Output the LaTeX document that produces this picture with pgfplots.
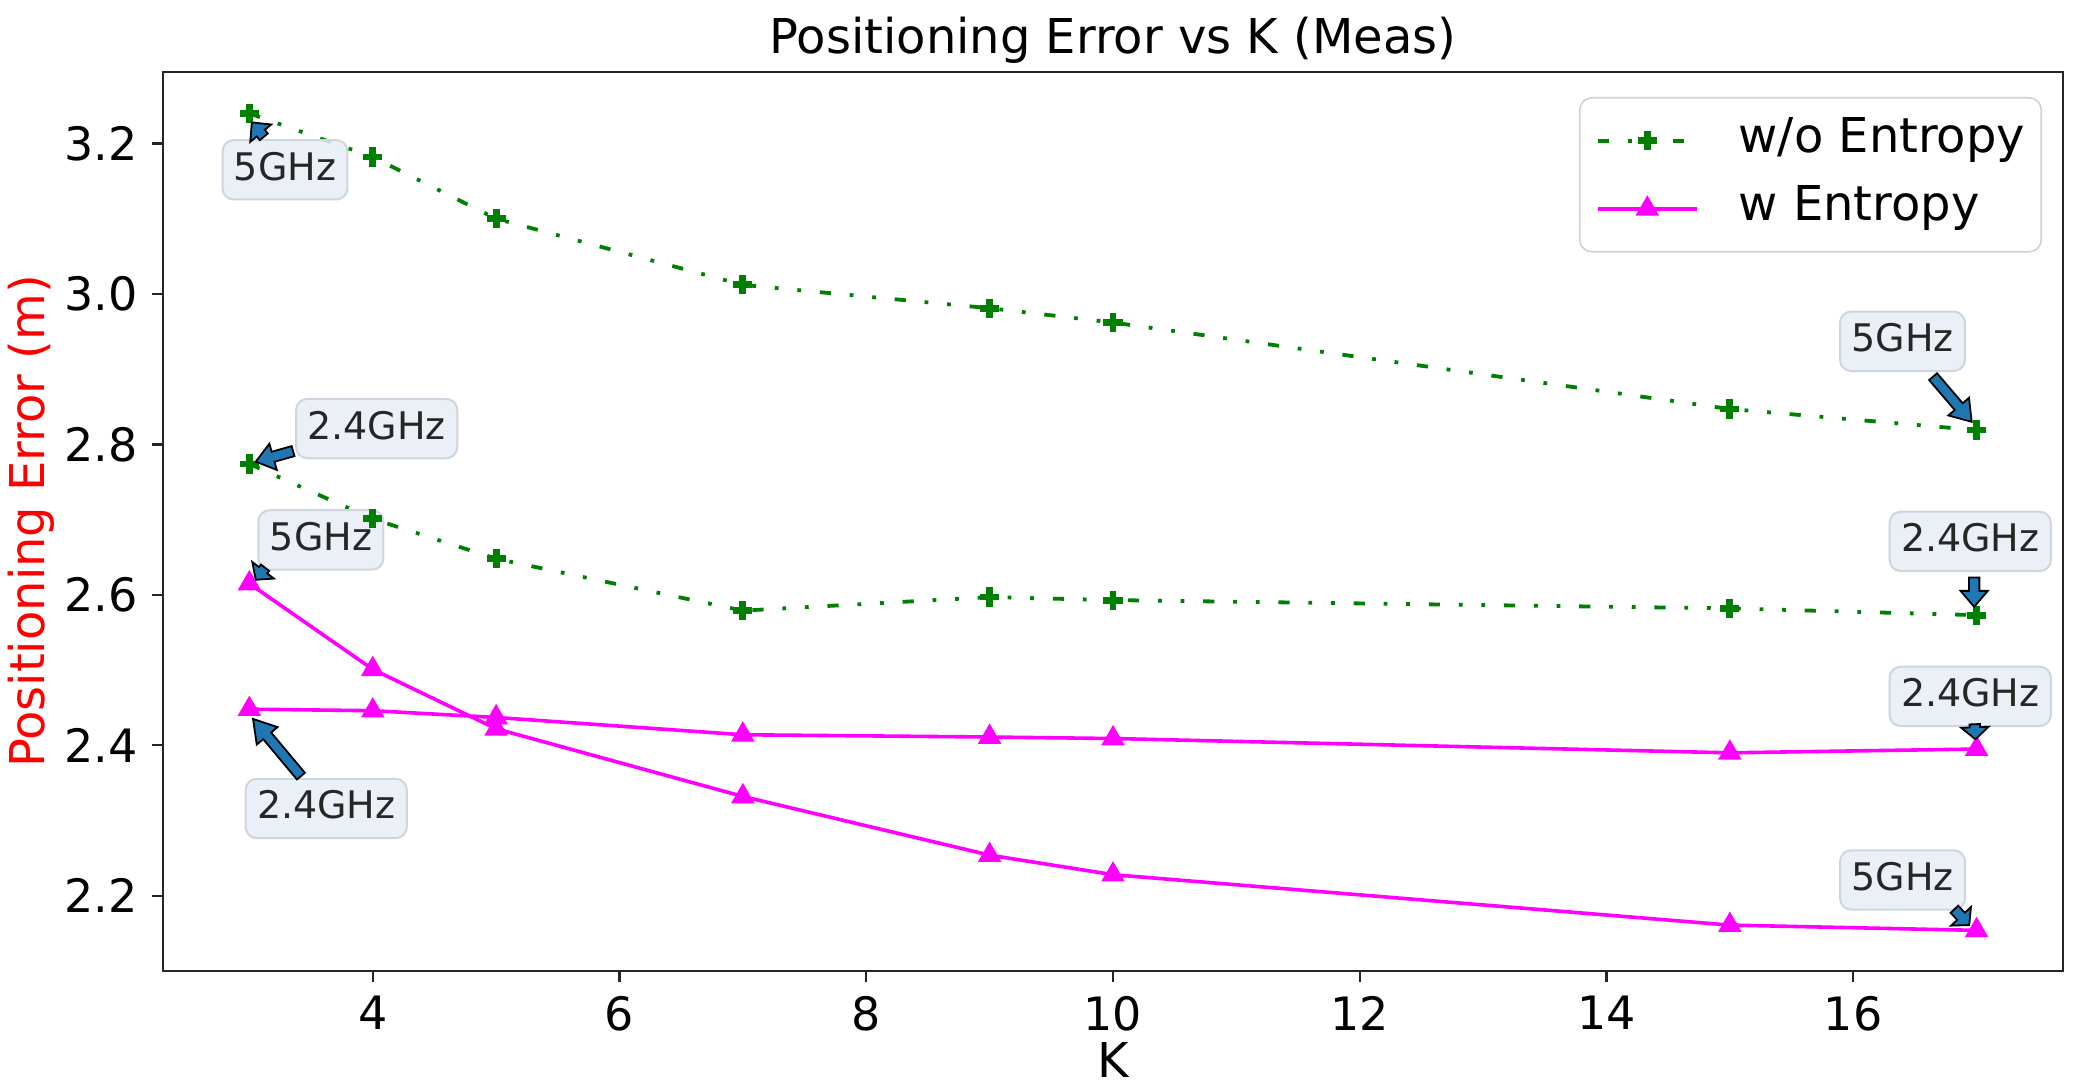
\documentclass[border=0pt]{standalone}
\usepackage{fontspec}
\setmainfont{DejaVu Sans}
\usepackage{pgfplots}
\pgfplotsset{compat=1.18}
\usetikzlibrary{calc}
\definecolor{mgreen}{RGB}{0,128,0}
\definecolor{mmag}{RGB}{255,0,255}
\definecolor{annfill}{RGB}{230,237,245}
\definecolor{annedge}{RGB}{205,213,222}
\definecolor{tabblue}{RGB}{31,119,180}

% tail, head, head length
\newcommand{\annarrow}[3]{%
  \coordinate (aB) at ($(#2)!#3!(#1)$);
  \filldraw[fill=tabblue, draw=black, line width=0.45pt, line join=miter]
    ($(#1)!1.3pt!90:(#2)$) -- ($(aB)!1.3pt!90:(#2)$) -- ($(aB)!3.4pt!90:(#2)$) --
    (#2) -- ($(aB)!3.4pt!-90:(#2)$) -- ($(aB)!1.3pt!-90:(#2)$) -- ($(#1)!1.3pt!-90:(#2)$) -- cycle;
}

\begin{document}
\begin{tikzpicture}
\useasboundingbox (-40.75pt,-29.75pt) rectangle (479.75pt,242.75pt);
\begin{axis}[
  at={(0,0)}, anchor=south west, scale only axis,
  width=475pt, height=224.75pt,
  xmin=2.3, xmax=17.7, ymin=2.1, ymax=3.295,
  xtick={4,6,...,16}, ytick={2.2,2.4,...,3.2},
  yticklabel style={/pgf/number format/fixed, /pgf/number format/precision=1, /pgf/number format/fixed zerofill},
  /pgf/number format/assume math mode=true,
  tick align=outside, major tick length=2.8pt, tick pos=left,
  tick style={black!85, line width=0.6pt},
  axis line style={black!85, line width=0.7pt},
  ticklabel style={font=\fontsize{11.5}{13}\selectfont},
  title={Positioning Error vs K (Meas)},
  title style={font=\fontsize{12}{14}\selectfont, at={(axis description cs:0.5,1)}, anchor=base, yshift=-1.5pt},
  xlabel={K},
  xlabel style={font=\fontsize{12}{14}\selectfont, at={(axis description cs:0.5,0)}, anchor=base, yshift=-26.75pt},
  ylabel={Positioning Error (m)},
  ylabel style={font=\fontsize{12}{14}\selectfont, text=red, at={(axis description cs:-0.0695,0.5)}, anchor=center},
  legend cell align=left,
  legend style={at={(axis description cs:1,1)}, anchor=north east, xshift=-5.25pt, yshift=-6.25pt,
    draw=black!18, rounded corners=3pt, fill=white,
    font=\fontsize{12}{14}\selectfont,
    inner xsep=4pt, inner ysep=4.75pt, row sep=5pt,
    nodes={inner sep=0pt, text height=9pt, text depth=3pt},
    /tikz/every odd column/.append style={column sep=10pt}},
  legend image code/.code={\draw[mark repeat=2,mark phase=2,#1] plot coordinates {(0pt,0pt) (12.4pt,0pt) (24.75pt,0pt)};},
]
% w/o Entropy, 5GHz
\addplot[mgreen, line width=0.95pt, dash pattern=on 2.8pt off 4.7pt on 0.95pt off 4.7pt on 0.95pt off 4.7pt,
  mark=+, mark size=2.4pt, mark options={solid, line width=1.7pt}]
  coordinates {(3,3.240) (4,3.182) (5,3.100) (7,3.012) (9,2.981) (10,2.962) (15,2.847) (17,2.819)};
\addlegendentry{w/o Entropy}
% w Entropy, 5GHz
\addplot[mmag, line width=0.9pt, mark=triangle*, mark size=2.5pt, mark options={solid}]
  coordinates {(3,2.615) (4,2.501) (5,2.422) (7,2.332) (9,2.254) (10,2.228) (15,2.161) (17,2.154)};
\addlegendentry{w Entropy}
% w/o Entropy, 2.4GHz
\addplot[forget plot, mgreen, line width=0.95pt, dash pattern=on 2.8pt off 4.7pt on 0.95pt off 4.7pt on 0.95pt off 4.7pt,
  mark=+, mark size=2.4pt, mark options={solid, line width=1.7pt}]
  coordinates {(3,2.774) (4,2.701) (5,2.648) (7,2.579) (9,2.597) (10,2.593) (15,2.582) (17,2.573)};
% w Entropy, 2.4GHz
\addplot[forget plot, mmag, line width=0.9pt, mark=triangle*, mark size=2.5pt, mark options={solid}]
  coordinates {(3,2.448) (4,2.446) (5,2.437) (7,2.414) (9,2.411) (10,2.409) (15,2.390) (17,2.395)};

\tikzset{ann/.style={fill=annfill, fill opacity=0.85, text opacity=1, draw=annedge, line width=0.5pt,
  rounded corners=2.8pt, font=\fontsize{9.5}{10.5}\selectfont, text=black!85,
  inner sep=2.85pt, text height=7.2pt, text depth=1.95pt}}
\node[ann] at (axis cs:3.289,3.165) {5GHz};
\node[ann] at (axis cs:4.032,2.821) {2.4GHz};
\node[ann] at (axis cs:3.580,2.673) {5GHz};
\node[ann] at (axis cs:3.623,2.316) {2.4GHz};
\node[ann] at (axis cs:16.399,2.937) {5GHz};
\node[ann] at (axis cs:16.948,2.671) {2.4GHz};
\node[ann] at (axis cs:16.948,2.465) {2.4GHz};
\node[ann] at (axis cs:16.399,2.221) {5GHz};

\coordinate (t1) at (axis cs:3.117,3.2088); \coordinate (h1) at (axis cs:3.020,3.228);
\coordinate (t2) at (axis cs:3.354,2.791);  \coordinate (h2) at (axis cs:3.052,2.777);
\coordinate (t3) at (axis cs:3.127,2.636);  \coordinate (h3) at (axis cs:3.052,2.620);
\coordinate (t4) at (axis cs:3.418,2.359);  \coordinate (h4) at (axis cs:3.030,2.435);
\coordinate (t5) at (axis cs:16.647,2.890); \coordinate (h5) at (axis cs:16.960,2.830);
\coordinate (t6) at (axis cs:16.980,2.623); \coordinate (h6) at (axis cs:16.980,2.584);
\coordinate (t7) at (axis cs:16.985,2.428); \coordinate (h7) at (axis cs:16.990,2.408);
\coordinate (t8) at (axis cs:16.820,2.182); \coordinate (h8) at (axis cs:16.940,2.161);
\end{axis}
\annarrow{t1}{h1}{3.5pt}
\annarrow{t2}{h2}{4.5pt}
\annarrow{t3}{h3}{3pt}
\annarrow{t4}{h4}{5.5pt}
\annarrow{t5}{h5}{5pt}
\annarrow{t6}{h6}{4pt}
\annarrow{t7}{h7}{3pt}
\annarrow{t8}{h8}{3pt}
\end{tikzpicture}
\end{document}
